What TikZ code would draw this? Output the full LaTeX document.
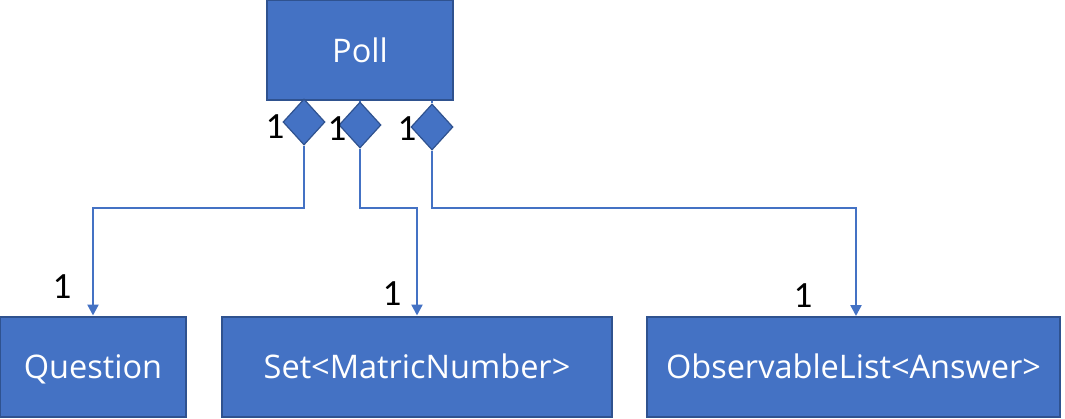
\documentclass[tikz,border=0pt]{standalone}
\usepackage{fontspec}
\setmainfont{Carlito}
\newfontfamily\boxfont{Open Sans}
\usetikzlibrary{shapes.geometric,arrows.meta}
\definecolor{fillblue}{HTML}{4472C4}
\definecolor{edgeblue}{HTML}{2F528F}
\begin{document}
\begin{tikzpicture}[x=1pt,y=-1pt,
  classbox/.style={draw=edgeblue,line width=2pt,fill=fillblue,text=white,
    minimum height=100pt,inner sep=0pt,text depth=0pt,font=\boxfont\fontsize{32.5}{38}\selectfont},
  agg/.style={diamond,draw=edgeblue,line width=1.2pt,fill=fillblue,
    minimum width=42pt,minimum height=46pt,inner sep=0pt},
  conn/.style={draw=fillblue,line width=2.4pt},
  mult/.style={font=\fontsize{37}{42}\selectfont,inner sep=0pt}]
\useasboundingbox (0,0) rectangle (1065,418);
\node[classbox,minimum width=186pt] (poll) at (360,50) {Poll};
\node[classbox,minimum width=186pt] (q) at (93,366.5) {Question};
\node[classbox,minimum width=390pt] (set) at (417,366.5) {Set<MatricNumber>};
\node[classbox,minimum width=413pt] (obs) at (853.5,366.5) {ObservableList<Answer>};
\coordinate (obsin) at (856,316);
\coordinate (h) at (0,208);
\node[agg] (d1) at (304,122) {};
\node[agg] (d2) at (360,125) {};
\node[agg] (d3) at (432,127) {};
\draw[conn] (d2.north) -- (d2.north |- poll.south);
\draw[conn] (d3.north) -- (d3.north |- poll.south);
\draw[conn,-{Triangle[length=11pt,width=11pt]}] (d1.south) |- (h -| q.north) -- (q.north);
\draw[conn,-{Triangle[length=11pt,width=11pt]}] (d2.south) |- (h -| set.north) -- (set.north);
\draw[conn,-{Triangle[length=11pt,width=11pt]}] (d3.south) |- (h -| obsin) -- (obsin);
\node[mult] (m1) at (275,127) {1};
\node[mult] (m2) at (337,129) {1};
\node[mult] (m3) at (407,129) {1};
\node[mult] (m4) at (62,287) {1};
\node[mult] (m5) at (392,294) {1};
\node[mult] (m6) at (803,296) {1};
\end{tikzpicture}
\end{document}
